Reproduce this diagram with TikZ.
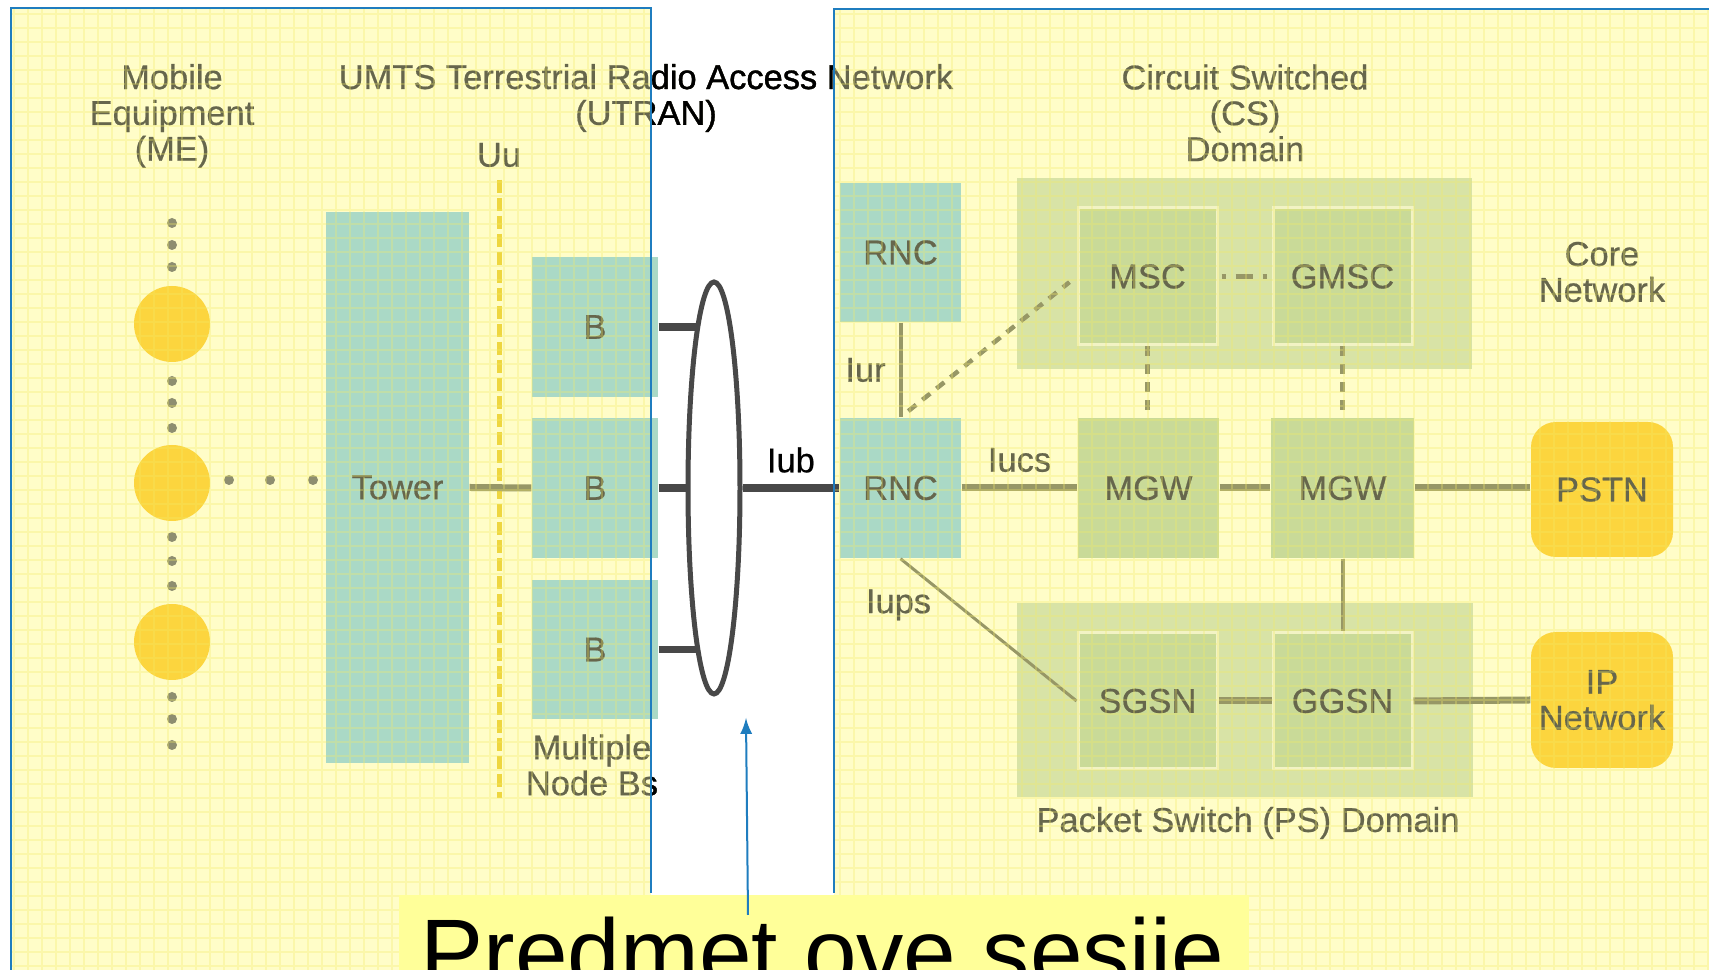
\documentclass[tikz,border=0pt]{standalone}
\usepackage{fontspec}
\setmainfont{Liberation Sans}
\newfontfamily\labelfont[FakeBold=0.6]{Liberation Sans}
\usetikzlibrary{shapes.geometric}

\definecolor{paper}{HTML}{FFFDC8}
\definecolor{frameblue}{HTML}{1F7DBF}
\definecolor{tealfill}{HTML}{AAD9C6}
\definecolor{domainfill}{HTML}{D8E3A6}
\definecolor{unitfill}{HTML}{C9DA98}
\definecolor{unitedge}{HTML}{F2F3C4}
\definecolor{netfill}{HTML}{FCD53E}
\definecolor{inkgray}{HTML}{66664C}
\definecolor{dotgray}{HTML}{8E8E70}
\definecolor{linkolive}{HTML}{979766}
\definecolor{busgray}{HTML}{484848}
\definecolor{uuyellow}{HTML}{EED640}
\definecolor{notefill}{HTML}{FFFF99}
\definecolor{gridyellow}{HTML}{F4EC66}

\tikzset{
 lbl/.style={text=inkgray, font=\labelfont\fontsize{9.8}{10.2}\selectfont, align=center, inner sep=0pt},
 tealbox/.style={lbl, fill=tealfill},
 domainbox/.style={fill=domainfill, inner sep=0pt},
 unitbox/.style={lbl, fill=unitfill},
 framed/.style={draw=unitedge, line width=0.3mm},
 netbox/.style={lbl, fill=netfill, rounded corners=2.5mm, minimum width=14.2mm},
 mecircle/.style={circle, fill=netfill, minimum size=7.6mm, inner sep=0pt},
 link/.style={draw=linkolive, line width=0.7mm},
 thinlink/.style={draw=linkolive, line width=0.4mm},
 dashlink/.style={draw=linkolive, line width=0.45mm, dash pattern=on 1mm off 0.8mm},
 stub/.style={draw=busgray, line width=0.75mm},
 uuline/.style={draw=uuyellow, line width=0.5mm, dash pattern=on 1.3mm off 0.5mm},
 gridline/.style={draw=gridyellow, line width=0.12mm, opacity=0.3, step=1.4mm},
 frame/.style={draw=frameblue, line width=0.2mm},
 pointer/.style={draw=frameblue, line width=0.2mm, -latex},
}

\begin{document}
\begin{tikzpicture}[x=0.1mm, y=-0.1mm]
\useasboundingbox (0,0) rectangle (1709,970);
\clip (0,0) rectangle (1709,970);

% panels
\fill[white] (0,0) rectangle (1709,970);
\fill[paper] (11,8) rectangle (651,970);
\fill[paper] (834,9) rectangle (1709,970);

% titles
\node[lbl] (metitle) at (172,116) {Mobile\\Equipment\\(ME)};
\node[lbl] (utrantitle) at (646,98) {UMTS Terrestrial Radio Access Network\\(UTRAN)};
\node[lbl] (cstitle) at (1245,113) {Circuit Switched\\(CS)\\Domain};
\node[lbl] (coretitle) at (1602,272) {Core\\Network};
\node[lbl] (nodebs) at (592,765) {Multiple\\Node Bs};
\node[lbl] (pstitle) at (1248,823) {Packet Switch (PS) Domain};
\node[lbl] (uu) at (499,155) {Uu};

% mobile equipment
\foreach \n/\y in {1/324,2/483,3/642}
 \node[mecircle] (me\n) at (172,\y) {};
\foreach \y in {223,245,267,381,403,428,537,561,586,697,719,745}
 \fill[dotgray] (172,\y) circle (0.5mm);
\foreach \x in {229,270,313}
 \fill[dotgray] (\x,480) circle (0.5mm);

% radio side
\node[tealbox, minimum width=14.3mm, minimum height=55.1mm] (tower) at (397.5,487.5) {Tower};
\foreach \n/\y/\h in {1/327/14,2/488/14,3/649.5/13.9}
 \node[tealbox, minimum width=12.6mm, minimum height=\h mm] (b\n) at (595,\y) {B};
\node[tealbox, minimum width=12.1mm, minimum height=13.9mm] (rnc1) at (900.5,252.5) {RNC};
\node[tealbox, minimum width=12.1mm, minimum height=14mm] (rnc2) at (900.5,488) {RNC};
\node[draw=busgray, line width=0.5mm, ellipse, minimum width=5.2mm, minimum height=41.2mm, inner sep=0pt] (bus) at (714,488) {};

% core side
\node[domainbox, minimum width=45.5mm, minimum height=19.1mm] (csdom) at (1244.5,273.5) {};
\node[domainbox, minimum width=45.6mm, minimum height=19.4mm] (psdom) at (1245,700) {};
\node[unitbox, framed, minimum width=13.9mm, minimum height=13.7mm] (msc) at (1147.5,276.5) {MSC};
\node[unitbox, framed, minimum width=13.9mm, minimum height=13.7mm] (gmsc) at (1342.5,276.5) {GMSC};
\node[unitbox, minimum width=14.1mm, minimum height=14mm] (mgw1) at (1148.5,488) {MGW};
\node[unitbox, minimum width=14.3mm, minimum height=14mm] (mgw2) at (1342.5,488) {MGW};
\node[unitbox, framed, minimum width=13.9mm, minimum height=13.6mm] (sgsn) at (1147.5,701) {SGSN};
\node[unitbox, framed, minimum width=13.9mm, minimum height=13.6mm] (ggsn) at (1342.5,701) {GGSN};
\node[netbox, minimum height=13.5mm] (pstn) at (1602,489.5) {PSTN};
\node[netbox, minimum height=13.6mm] (ipnet) at (1602,700) {IP\\Network};

% connections
\coordinate (uuend) at (499,798);
\draw[uuline, shorten <=1.2mm] (uu.south) -- (uuend);
\draw[link] (tower.east) -- (b2.west);
\foreach \k/\a in {1/96,2/180,3/264}
 \draw[stub] (b\k.east) -- (bus.\a |- b\k.east);
\draw[stub] (bus.east) -- node[lbl, text=black, midway, yshift=2.8mm] (iub) {Iub} (rnc2.west);
\draw[thinlink] (rnc1.south) -- node[lbl, midway, xshift=-3.5mm] (iur) {Iur} (rnc2.north);
\draw[dashlink, shorten <=1mm, shorten >=0.9mm] (rnc2.north) -- (msc.west);
\draw[link, line width=0.5mm, dash pattern=on 0.4mm off 1mm on 1.7mm off 1mm on 0.4mm off 10mm, shorten <=0.3mm, shorten >=0.3mm] (msc.east) -- (gmsc.west);
\draw[dashlink, line width=0.5mm] (msc.south) -- (msc.south |- mgw1.north);
\draw[dashlink, line width=0.5mm] (gmsc.south) -- (mgw2.north);
\draw[link] (rnc2.east) -- node[lbl, midway, yshift=2.8mm] (iucs) {Iucs} (mgw1.west);
\draw[link] (mgw1.east) -- (mgw2.west);
\draw[link] (mgw2.east) -- (mgw2.east -| pstn.west);
\draw[thinlink] (mgw2.south) -- (ggsn.north);
\draw[draw=linkolive, line width=0.3mm] (rnc2.south) -- node[lbl, midway, xshift=-9mm, yshift=2.5mm] (iups) {Iups} (sgsn.west);
\draw[link] (sgsn.east) -- (ggsn.west);
\draw[link] (ggsn.east) -- (ipnet.west);

% screen grid
\draw[gridline] (11,8) grid (651,970);
\draw[gridline] (834,9) grid (1709,970);

% middle strip shows text in black
\begin{scope}
 \clip (651,0) rectangle (834,893);
 \node[lbl, text=black] (utrantitlehi) at (646,98) {UMTS Terrestrial Radio Access Network\\(UTRAN)};
 \node[lbl, text=black] (nodebshi) at (592,765) {Multiple\\Node Bs};
\end{scope}

\draw[frame] (11,970) -- (11,8) -- (651,8) -- (651,893);
\draw[frame] (834,893) -- (834,9) -- (1709,9);

% note
\node[fill=notefill, anchor=north west, minimum width=85mm, minimum height=9.6mm, inner sep=0pt] (notebox) at (398,894) {};
\node[anchor=base west, inner sep=0pt, font=\fontsize{26.9}{30}\selectfont] (subject) at (420,986) {Predmet ove sesije};
\coordinate (arrowtail) at (748,915);
\coordinate (arrowtip) at (746,718);
\draw[pointer] (arrowtail) -- (arrowtip);
\end{tikzpicture}
\end{document}
